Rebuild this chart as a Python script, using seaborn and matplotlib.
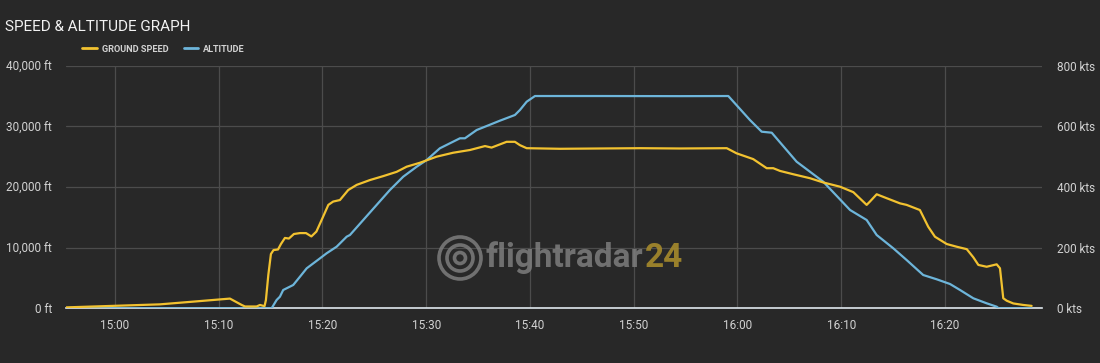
import numpy as np
import pandas as pd
import matplotlib
matplotlib.use("Agg")
import matplotlib.pyplot as plt
import matplotlib.dates as mdates
from matplotlib.ticker import FuncFormatter, FixedLocator
from matplotlib.lines import Line2D
from matplotlib.patches import Ellipse
import seaborn as sns

# ---------------- data ----------------
speed_times = ["14:55:17", "15:04:20", "15:07:33", "15:11:05", "15:12:13", "15:12:32",
               "15:13:39", "15:13:59", "15:14:25", "15:14:33", "15:14:47", "15:15:02",
               "15:15:17", "15:15:43", "15:16:00", "15:16:23", "15:16:46", "15:17:15",
               "15:17:50", "15:18:25", "15:18:56", "15:19:25", "15:19:55", "15:20:34",
               "15:21:02", "15:21:41", "15:22:29", "15:23:18", "15:24:35", "15:25:52",
               "15:27:09", "15:28:07", "15:29:24", "15:31:00", "15:32:36", "15:34:13",
               "15:35:40", "15:36:18", "15:37:45", "15:38:33", "15:39:02", "15:39:41",
               "15:42:54", "15:46:45", "15:50:36", "15:54:27", "15:58:58", "15:59:55",
               "16:01:31", "16:02:49", "16:03:27", "16:04:06", "16:05:23", "16:06:59",
               "16:08:16", "16:09:53", "16:11:10", "16:12:27", "16:12:46", "16:13:25",
               "16:14:23", "16:15:40", "16:16:18", "16:17:35", "16:18:23", "16:19:02",
               "16:20:10", "16:21:08", "16:22:06", "16:22:44", "16:23:13", "16:24:01",
               "16:24:59", "16:25:18", "16:25:37", "16:25:57", "16:26:35", "16:27:33",
               "16:28:21"]
speed_kts = [3, 13, 22, 32, 11, 6,
             6, 11, 7, 27, 110, 179,
             192, 194, 212, 232, 230, 245,
             248, 248, 237, 253, 291, 341,
             352, 357, 390, 407, 423, 436,
             450, 467, 480, 500, 513, 522,
             535, 530, 549, 549, 538, 528,
             526, 527, 528, 527, 528, 511,
             492, 462, 462, 453, 442, 429,
             415, 401, 383, 341, 352, 376,
             363, 346, 341, 324, 269, 236,
             212, 203, 195, 168, 143, 137,
             145, 132, 33, 25, 16, 11,
             8]

alt_times = ["14:55:17", "15:15:06", "15:15:35", "15:15:54", "15:16:13", "15:17:11",
             "15:17:50", "15:18:29", "15:19:46", "15:20:24", "15:21:22", "15:22:20",
             "15:22:39", "15:23:56", "15:25:13", "15:26:30", "15:27:47", "15:29:05",
             "15:30:03", "15:31:19", "15:33:15", "15:33:44", "15:34:52", "15:35:50",
             "15:37:06", "15:38:33", "15:39:02", "15:39:41", "15:40:29", "15:46:45",
             "15:54:27", "15:59:07", "16:01:12", "16:02:20", "16:03:18", "16:05:42",
             "16:08:16", "16:10:51", "16:12:27", "16:13:25", "16:15:01", "16:16:18",
             "16:17:54", "16:19:12", "16:20:29", "16:21:27", "16:22:44", "16:24:01",
             "16:24:59", "16:25:10", "16:28:21"]
alt_ft = [0, 0, 1369, 1913, 3017, 3842,
          5210, 6595, 8244, 9068, 10157, 11805,
          12086, 14560, 17033, 19505, 21698, 23347,
          24452, 26381, 28030, 28030, 29398, 30058,
          30932, 31871, 32696, 34064, 35000, 35000,
          34980, 35000, 31047, 29118, 28953, 24171,
          20874, 16208, 14560, 12086, 9893, 7964,
          5490, 4782, 4007, 3017, 1649, 824,
          264, 0, 0]

alt_ticks = [0, 10000, 20000, 30000, 40000]
speed_ticks = [0, 200, 400, 600, 800]
x_start, x_end = "14:55:17", "16:29:21"

title = "SPEED & ALTITUDE GRAPH"
legend_labels = ["GROUND SPEED", "ALTITUDE"]

# ---------------- styling ----------------
BG = "#282828"
YELLOW = "#f2c230"
BLUE = "#6db5da"
GRID = "#4c4c4c"
TXT = "#d2d2d2"
W, H = 1100, 363

sns.set_theme(style="dark")
plt.rcParams["font.family"] = ["Roboto", "DejaVu Sans"]

day = "2024-01-01 "
to_dt = lambda ts: pd.to_datetime([day + t for t in ts])
speed_df = pd.DataFrame({"time": to_dt(speed_times), "speed": speed_kts})
alt_df = pd.DataFrame({"time": to_dt(alt_times), "alt": alt_ft})

fig = plt.figure(figsize=(11, 3.63), dpi=100, facecolor=BG)
ax = fig.add_axes([66 / W, 1 - 308.3 / H, (1042 - 66) / W, (308.3 - 65.7) / H])
ax.set_facecolor(BG)
ax2 = ax.twinx()

sns.lineplot(data=alt_df, x="time", y="alt", ax=ax, color=BLUE, lw=1.6,
             sort=False, estimator=None, zorder=3)
sns.lineplot(data=speed_df, x="time", y="speed", ax=ax2, color=YELLOW, lw=1.6,
             sort=False, estimator=None, zorder=3)

ax.set_xlim(pd.Timestamp(day + x_start), pd.Timestamp(day + x_end))
ax.set_ylim(alt_ticks[0], alt_ticks[-1])
ax2.set_ylim(speed_ticks[0], speed_ticks[-1])
ax.yaxis.set_major_locator(FixedLocator(alt_ticks))
ax2.yaxis.set_major_locator(FixedLocator(speed_ticks))
ax.yaxis.set_major_formatter(FuncFormatter(lambda v, _: f"{int(v):,} ft"))
ax2.yaxis.set_major_formatter(FuncFormatter(lambda v, _: f"{int(v)} kts"))
ax.xaxis.set_major_locator(mdates.MinuteLocator(byminute=[0, 10, 20, 30, 40, 50]))
ax.xaxis.set_major_formatter(mdates.DateFormatter("%H:%M"))

for a in (ax, ax2):
    a.set_xlabel("")
    a.set_ylabel("")
    for s in a.spines.values():
        s.set_visible(False)
ax.spines["bottom"].set_visible(True)
ax.spines["bottom"].set_color("#dfe8ee")
ax.spines["bottom"].set_linewidth(1.2)

ax.grid(True, color=GRID, lw=0.9)
ax.set_axisbelow(True)
ax2.grid(False)
ax.tick_params(axis="y", length=0, pad=10, labelsize=8.5, labelcolor=TXT)
ax2.tick_params(axis="y", length=0, pad=11, labelsize=8.5, labelcolor=TXT)
ax.tick_params(axis="x", length=5, width=1, color="#dfe8ee", pad=3,
               labelsize=8.5, labelcolor=TXT)

# title
fig.text(5 / W, 1 - 27 / H, title, color="#f2f2f2", fontsize=11,
         va="center", ha="left")

# legend
handles = [Line2D([], [], color=YELLOW, lw=2), Line2D([], [], color=BLUE, lw=2)]
leg = fig.legend(handles, legend_labels, loc="center left",
                 bbox_to_anchor=(74 / W, 1 - 49 / H), ncol=2, frameon=False,
                 handlelength=1.6, handletextpad=0.5, columnspacing=1.7,
                 prop={"weight": "bold", "size": 6.6})
for t in leg.get_texts():
    t.set_color(TXT)

# watermark
wm = fig.text(486 / W, 1 - 258 / H, "flightradar", color="#7e7e7e", fontsize=24,
              fontweight="bold", va="center", ha="left", alpha=0.85)
ax.annotate("24", xy=(1.0, 0.5), xycoords=wm, xytext=(1, 0), textcoords="offset points",
            color="#a68a2c", fontsize=24, fontweight="bold", va="center", ha="left",
            alpha=0.9, annotation_clip=False)
cx, cy = 460 / W, 1 - 258 / H
for r in (21, 13, 5.5):
    fig.patches.append(Ellipse((cx, cy), 2 * r / W, 2 * r / H, transform=fig.transFigure,
                               fill=False, ec="#7e7e7e", lw=2.6, alpha=0.85))

fig.savefig("out.png", dpi=100, facecolor=BG)
